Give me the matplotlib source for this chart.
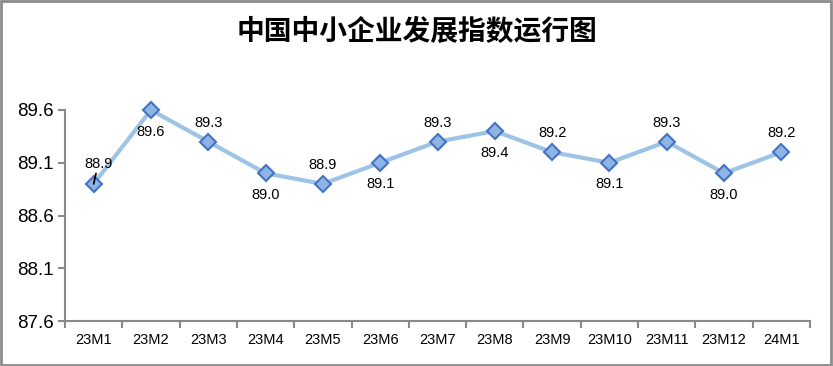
import matplotlib.pyplot as plt
from matplotlib.patches import Rectangle

# 中国中小企业发展指数
months = ["23M1", "23M2", "23M3", "23M4", "23M5", "23M6", "23M7",
          "23M8", "23M9", "23M10", "23M11", "23M12", "24M1"]
index_vals = [88.9, 89.6, 89.3, 89.0, 88.9, 89.1, 89.3,
              89.4, 89.2, 89.1, 89.3, 89.0, 89.2]
label_above = [True, False, True, False, True, False, True,
               False, True, False, True, False, True]
y_ticks = [87.6, 88.1, 88.6, 89.1, 89.6]

num_font = ["Liberation Sans Narrow", "Liberation Sans", "DejaVu Sans"]
axis_gray = "#898989"

fig = plt.figure(figsize=(8.33, 3.66), dpi=100)
ax = fig.add_axes([65 / 833, 1 - 321 / 366, 745 / 833, 211 / 366])

x = list(range(len(months)))
ax.plot(x, index_vals, color="#9DC3E6", lw=3, zorder=2, clip_on=False)
ax.plot(x, index_vals, ls="none", marker="D", ms=8.5, mfc="#8DB4E2",
        mec="#4472C4", mew=1.5, zorder=3, clip_on=False)

for i, v in enumerate(index_vals):
    if i == 0:
        ax.annotate(f"{v:.1f}", (i, v), xytext=(3.3, 14.5), textcoords="offset points",
                    ha="center", va="center", fontsize=10.5, family=num_font,
                    arrowprops=dict(arrowstyle="-", color="black", lw=1.3,
                                    shrinkA=9, shrinkB=0))
    elif label_above[i]:
        ax.annotate(f"{v:.1f}", (i, v), xytext=(0, 13.5), textcoords="offset points",
                    ha="center", va="center", fontsize=10.5, family=num_font)
    else:
        ax.annotate(f"{v:.1f}", (i, v), xytext=(0, -15.5), textcoords="offset points",
                    ha="center", va="center", fontsize=10.5, family=num_font)

ax.set_xlim(-0.5, len(months) - 0.5)
ax.set_ylim(87.6, 89.6)
ax.set_yticks(y_ticks)
ax.set_yticklabels([f"{t:.1f}" for t in y_ticks], family=num_font, fontsize=13.5)
ax.set_xticks(x)
ax.set_xticklabels(months, family=num_font, fontsize=10.5)
ax.set_xticks([i - 0.5 for i in range(len(months) + 1)], minor=True)
ax.tick_params(axis="x", which="major", length=0, pad=9)
ax.tick_params(axis="x", which="minor", length=5, width=1.5, color=axis_gray)
ax.tick_params(axis="y", length=5, width=1.5, color=axis_gray, pad=3)

for side in ["top", "right"]:
    ax.spines[side].set_visible(False)
for side in ["left", "bottom"]:
    ax.spines[side].set_color(axis_gray)
    ax.spines[side].set_linewidth(1.5)

fig.text(0.5, 1 - 32 / 366, "中国中小企业发展指数运行图", ha="center", va="center",
         fontsize=20, fontweight="bold", family=["Noto Sans CJK SC", "DejaVu Sans"])

# outer border of the chart area
fig.patches.append(Rectangle((0.001, 0.002), 0.997, 0.995, transform=fig.transFigure,
                             fill=False, edgecolor="#8c8c8c", lw=2))

fig.savefig("out.png", dpi=100)
